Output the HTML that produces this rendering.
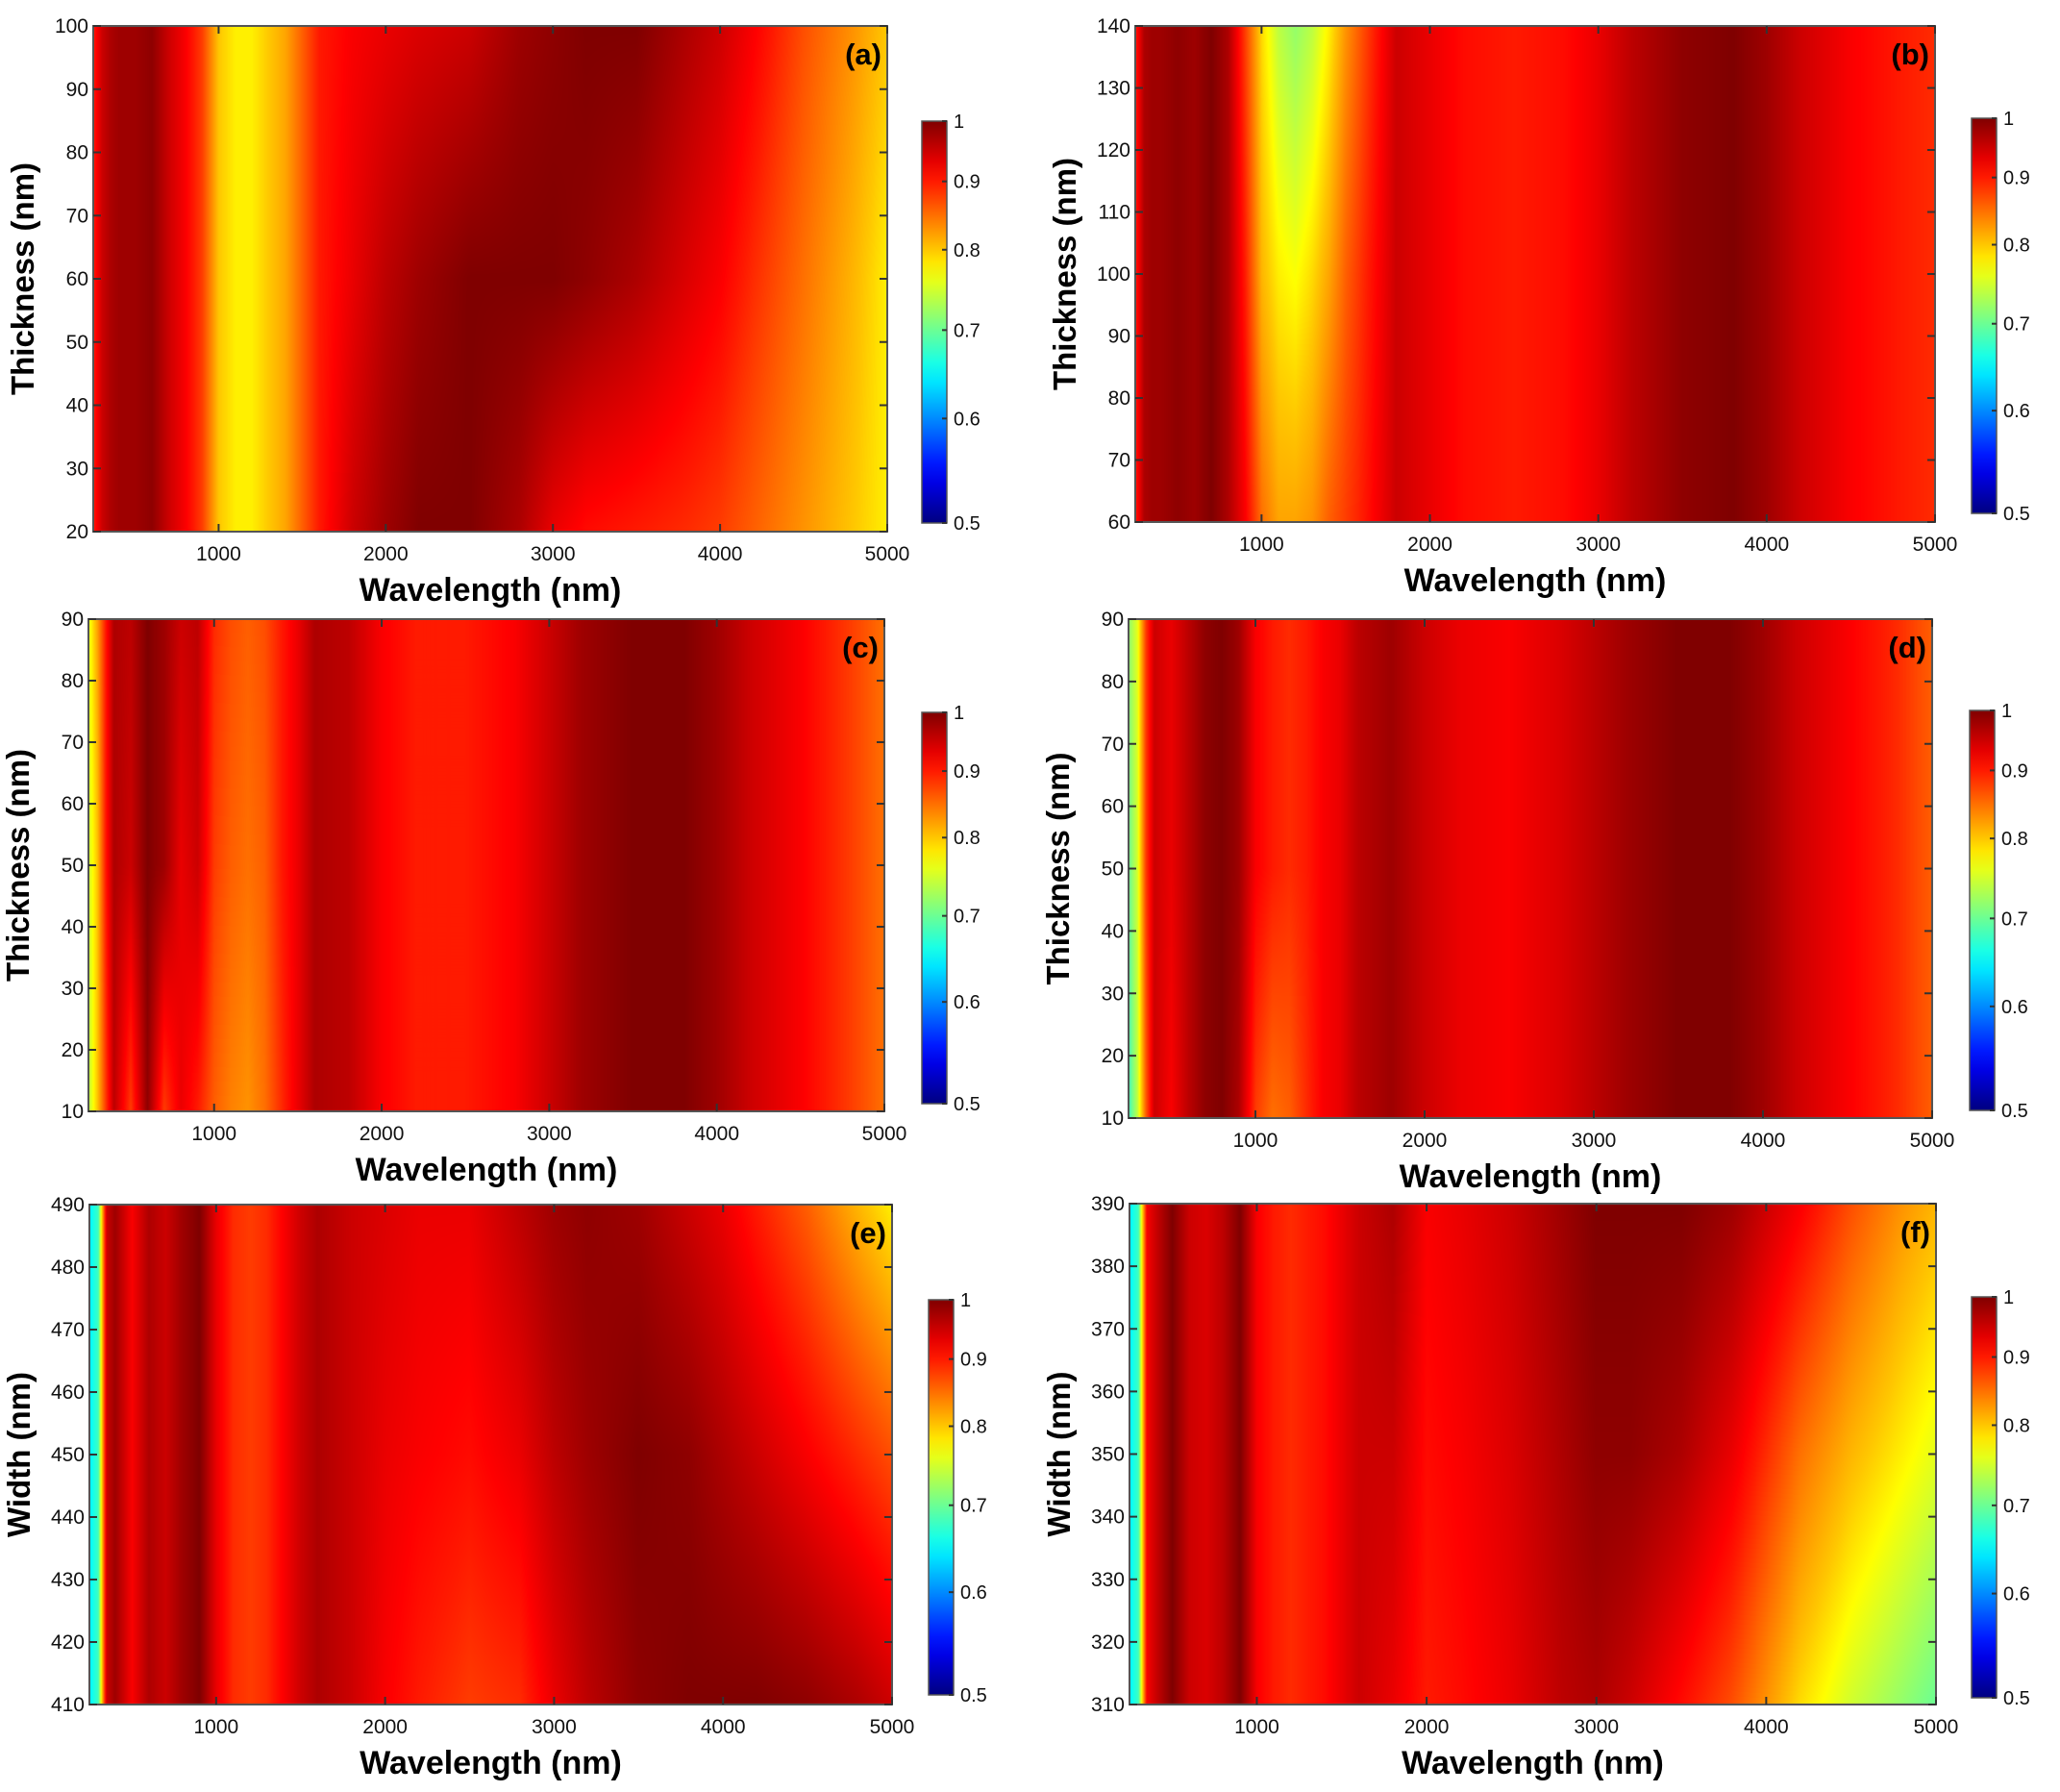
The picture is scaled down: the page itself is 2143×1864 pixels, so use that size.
<!DOCTYPE html>
<html><head><meta charset="utf-8">
<style>
html,body{margin:0;padding:0;background:#fff;}
#root{position:relative;width:2143px;height:1864px;overflow:hidden;background:#fff;font-family:"Liberation Sans",sans-serif;}
canvas{position:absolute;}
svg{position:absolute;left:0;top:0;}
</style></head>
<body>
<div id="root">
<svg id="ov" width="2143" height="1864"></svg>
</div>
<script>
// shared wavelength columns (nm)
const waves = [250,300,350,400,500,600,700,800,900,1000,1100,1200,1300,1400,1500,1600,1800,2000,2200,2500,2800,3000,3200,3500,3800,4000,4200,4500,4800,5000];
const xTicks = [1000,2000,3000,4000,5000];
const cbTicks = ["1","0.9","0.8","0.7","0.6","0.5"];
const cbValues = [1,0.9,0.8,0.7,0.6,0.5];
// panel (a) rows: bottom, middle, top
const aBottom = [0.90,0.95,0.97,0.98,0.98,0.99,0.95,0.92,0.88,0.80,0.78,0.78,0.80,0.82,0.86,0.90,0.95,0.98,1.00,1.00,0.97,0.93,0.91,0.90,0.89,0.88,0.86,0.83,0.80,0.78];
const aMid    = [0.90,0.95,0.97,0.98,0.98,0.99,0.95,0.92,0.88,0.80,0.78,0.78,0.80,0.82,0.86,0.90,0.93,0.96,0.98,1.00,1.00,1.00,0.99,0.97,0.94,0.92,0.89,0.85,0.81,0.78];
const aTop    = [0.90,0.95,0.97,0.98,0.98,0.99,0.95,0.92,0.88,0.80,0.78,0.78,0.80,0.82,0.86,0.90,0.92,0.93,0.94,0.95,0.98,0.99,1.00,1.00,0.97,0.95,0.92,0.87,0.83,0.80];
const aYTicks = [20,30,40,50,60,70,80,90,100];
// panel (b)
const bBottom = [0.90,0.97,0.98,0.98,0.99,0.98,1.00,0.97,0.92,0.85,0.82,0.82,0.83,0.86,0.88,0.90,0.95,0.93,0.91,0.90,0.91,0.93,0.96,0.99,1.00,0.98,0.95,0.92,0.90,0.89];
const bMid    = [0.90,0.97,0.98,0.98,0.99,0.98,1.00,0.97,0.90,0.81,0.78,0.77,0.79,0.82,0.86,0.89,0.95,0.93,0.91,0.90,0.91,0.93,0.96,0.99,1.00,0.98,0.95,0.92,0.90,0.89];
const bTop    = [0.90,0.97,0.98,0.98,0.99,0.98,1.00,0.97,0.88,0.79,0.74,0.72,0.74,0.78,0.83,0.87,0.95,0.93,0.91,0.90,0.91,0.93,0.96,0.99,1.00,0.98,0.95,0.92,0.90,0.89];
const bYTicks = [60,70,80,90,100,110,120,130,140];
// panel (c)
const cBottom = [0.74,0.80,0.88,0.96,0.88,0.99,0.88,0.93,0.90,0.86,0.84,0.83,0.85,0.89,0.93,0.97,0.96,0.92,0.90,0.90,0.92,0.95,0.98,1.00,1.00,0.98,0.95,0.92,0.88,0.85];
const cMid    = [0.75,0.80,0.90,0.97,0.95,1.00,0.98,0.93,0.95,0.88,0.86,0.85,0.86,0.90,0.93,0.97,0.96,0.92,0.90,0.90,0.92,0.95,0.98,1.00,1.00,0.98,0.95,0.92,0.88,0.85];
const cTop    = [0.76,0.82,0.90,0.97,0.96,1.00,0.98,0.95,0.96,0.89,0.87,0.86,0.87,0.90,0.93,0.97,0.96,0.92,0.90,0.90,0.92,0.95,0.98,1.00,1.00,0.98,0.95,0.92,0.88,0.85];
const cYTicks = [10,20,30,40,50,60,70,80,90];
// panel (d)
const dBottom = [0.68,0.74,0.86,0.95,0.92,0.96,0.99,1.00,0.97,0.88,0.85,0.86,0.89,0.92,0.93,0.96,0.98,0.95,0.93,0.92,0.94,0.96,0.98,1.00,1.00,0.98,0.95,0.92,0.89,0.86];
const dMid    = [0.70,0.75,0.88,0.95,0.93,0.96,0.99,1.00,0.98,0.92,0.90,0.89,0.90,0.92,0.93,0.96,0.98,0.95,0.93,0.92,0.94,0.96,0.98,1.00,1.00,0.98,0.95,0.92,0.89,0.86];
const dTop    = [0.72,0.76,0.88,0.95,0.93,0.96,0.99,1.00,0.98,0.92,0.90,0.89,0.90,0.92,0.93,0.96,0.98,0.95,0.93,0.92,0.94,0.96,0.98,1.00,1.00,0.98,0.95,0.92,0.89,0.86];
const dYTicks = [10,20,30,40,50,60,70,80,90];
// panel (e)
const eBottom = [0.65,0.68,0.95,0.98,0.92,0.97,0.95,0.98,1.00,0.93,0.89,0.88,0.89,0.92,0.95,0.97,0.95,0.92,0.90,0.88,0.89,0.93,0.96,0.99,1.00,1.00,1.00,0.99,0.97,0.95];
const eMid    = [0.65,0.68,0.95,0.98,0.92,0.97,0.95,0.98,1.00,0.93,0.89,0.88,0.89,0.92,0.95,0.97,0.95,0.93,0.92,0.91,0.93,0.96,0.98,1.00,0.99,0.97,0.95,0.92,0.89,0.87];
const eTop    = [0.65,0.68,0.95,0.98,0.92,0.97,0.95,0.98,1.00,0.93,0.89,0.88,0.89,0.92,0.95,0.97,0.95,0.94,0.93,0.93,0.96,0.98,0.99,0.98,0.95,0.93,0.90,0.86,0.81,0.78];
const eYTicks = [410,420,430,440,450,460,470,480,490];
// panel (f)
const fBottom = [0.65,0.68,0.92,0.95,1.00,0.95,0.94,0.96,1.00,0.92,0.90,0.89,0.90,0.91,0.93,0.95,0.93,0.90,0.91,0.93,0.96,0.97,0.95,0.91,0.87,0.83,0.79,0.75,0.72,0.70];
const fMid    = [0.65,0.68,0.92,0.95,1.00,0.95,0.94,0.96,1.00,0.92,0.90,0.89,0.90,0.91,0.93,0.95,0.95,0.91,0.92,0.94,0.97,0.99,0.99,0.97,0.93,0.89,0.85,0.81,0.78,0.76];
const fTop    = [0.65,0.68,0.92,0.95,1.00,0.95,0.94,0.96,1.00,0.92,0.90,0.89,0.90,0.91,0.93,0.95,0.97,0.92,0.93,0.95,0.98,1.00,1.00,1.00,0.98,0.95,0.92,0.87,0.83,0.81];
const fYTicks = [310,320,330,340,350,360,370,380,390];

const panels = [
 {id:'a',rows:[aBottom,aMid,aTop],yt:aYTicks,ytitle:'Thickness (nm)',x:97,y:27,w:826,h:526,cb:[959,126,26,418]},
 {id:'b',rows:[bBottom,bMid,bTop],yt:bYTicks,ytitle:'Thickness (nm)',x:1181,y:27,w:832,h:516,cb:[2051,123,26,411]},
 {id:'c',rows:[cBottom,cMid,cTop],yt:cYTicks,ytitle:'Thickness (nm)',x:92,y:644,w:828,h:512,cb:[959,741,26,407]},
 {id:'d',rows:[dBottom,dMid,dTop],yt:dYTicks,ytitle:'Thickness (nm)',x:1174,y:644,w:836,h:519,cb:[2049,739,26,416]},
 {id:'e',rows:[eBottom,eMid,eTop],yt:eYTicks,ytitle:'Width (nm)',x:93,y:1253,w:835,h:520,cb:[966,1352,26,411]},
 {id:'f',rows:[fBottom,fMid,fTop],yt:fYTicks,ytitle:'Width (nm)',x:1175,y:1252,w:839,h:521,cb:[2051,1349,26,417]}
];
const XMIN=250, XMAX=5000;
const cbFrac=[0,0.15,0.32,0.52,0.74,1];

function jetT(t){
  t=Math.max(0,Math.min(1,t));
  const c=x=>Math.max(0,Math.min(1,x));
  return [c(1.5-Math.abs(4*t-3))*255,c(1.5-Math.abs(4*t-2))*255,c(1.5-Math.abs(4*t-1))*255];
}
function valToFrac(v){
  if(v>=cbValues[0]) return 0;
  for(let k=0;k<cbValues.length-1;k++){
    if(v<=cbValues[k] && v>=cbValues[k+1]){
      const u=(cbValues[k]-v)/(cbValues[k]-cbValues[k+1]);
      return cbFrac[k]+u*(cbFrac[k+1]-cbFrac[k]);
    }
  }
  return 1;
}
function color(v){return jetT(1-valToFrac(v));}
function valAt(rows,wl,fy){
  let i=0; while(i<waves.length-2 && waves[i+1]<wl) i++;
  let tx=(wl-waves[i])/(waves[i+1]-waves[i]); tx=Math.max(0,Math.min(1,tx));
  const r=fy*(rows.length-1); let j=Math.min(rows.length-2,Math.floor(r)); const ty=r-j;
  const a=rows[j][i]*(1-tx)+rows[j][i+1]*tx, b=rows[j+1][i]*(1-tx)+rows[j+1][i+1]*tx;
  return a*(1-ty)+b*ty;
}
const root=document.getElementById('root');
const ov=document.getElementById('ov');
const NS='http://www.w3.org/2000/svg';
function mk(tag,attrs,parent,text){const e=document.createElementNS(NS,tag);for(const k in attrs)e.setAttribute(k,attrs[k]);if(text!==undefined)e.textContent=text;(parent||ov).appendChild(e);return e;}

const defs=mk('defs',{});
const lg=mk('linearGradient',{id:'jetg',x1:0,y1:0,x2:0,y2:1},defs);
for(let k=0;k<=20;k++){const c=jetT(1-k/20);mk('stop',{offset:(k/20),'stop-color':`rgb(${c.map(Math.round).join(',')})`},lg);}

panels.forEach(p=>{
  const cv=document.createElement('canvas');
  cv.width=p.w;cv.height=p.h;cv.style.left=p.x+'px';cv.style.top=p.y+'px';
  
  
  root.insertBefore(cv,ov);
  const ctx=cv.getContext('2d');const img=ctx.createImageData(p.w,p.h);
  for(let py=0;py<p.h;py++){const fy=1-py/(p.h-1);
    for(let px=0;px<p.w;px++){const wl=XMIN+(XMAX-XMIN)*px/(p.w-1);
      const c=color(valAt(p.rows,wl,fy));const o=(py*p.w+px)*4;
      img.data[o]=c[0];img.data[o+1]=c[1];img.data[o+2]=c[2];img.data[o+3]=255;}}
  ctx.putImageData(img,0,0);
  const g=mk('g',{});
  
  
  const fr=mk('rect',{x:p.x,y:p.y,width:p.w,height:p.h,fill:'none',stroke:'#555','stroke-width':2},g);
  
  
  const sx=v=>p.x+(v-XMIN)/(XMAX-XMIN)*p.w;
  xTicks.forEach(v=>{const X=sx(v);
    mk('line',{x1:X,y1:p.y+p.h,x2:X,y2:p.y+p.h-8,stroke:'#333','stroke-width':2},g);
    mk('line',{x1:X,y1:p.y,x2:X,y2:p.y+8,stroke:'#333','stroke-width':2},g);
    const t=mk('text',{x:X,y:p.y+p.h+30,'text-anchor':'middle','font-size':21,fill:'#111'},g,String(v));
    
    
  });
  const y0=p.yt[0],y1=p.yt[p.yt.length-1];
  const sy=v=>p.y+p.h-(v-y0)/(y1-y0)*p.h;
  p.yt.forEach(v=>{const Y=sy(v);
    mk('line',{x1:p.x,y1:Y,x2:p.x+8,y2:Y,stroke:'#333','stroke-width':2},g);
    mk('line',{x1:p.x+p.w,y1:Y,x2:p.x+p.w-8,y2:Y,stroke:'#333','stroke-width':2},g);
    const t=mk('text',{x:p.x-5,y:Y+7,'text-anchor':'end','font-size':21,fill:'#111'},g,String(v));
    
    
  });
  const xt=mk('text',{x:p.x+p.w/2,y:p.y+p.h+72,'text-anchor':'middle','font-size':34,'font-weight':'bold',fill:'#000'},g,'Wavelength (nm)');
  
  
  const ycx=p.x-62, ycy=p.y+p.h/2;
  const yt=mk('text',{x:ycx,y:ycy,'text-anchor':'middle','font-size':33,'font-weight':'bold',fill:'#000',transform:`rotate(-90 ${ycx} ${ycy})`},g,p.ytitle);
  
  
  const pl=mk('text',{x:p.x+p.w-6,y:p.y+40,'text-anchor':'end','font-size':31,'font-weight':'bold',fill:'#000'},g,'('+p.id+')');
  
  
  const [cx,cy,cw,ch]=p.cb;
  const cb=mk('rect',{x:cx,y:cy,width:cw,height:ch,fill:'url(#jetg)',stroke:'#555','stroke-width':1.5},g);
  
  
  cbTicks.forEach((lab,k)=>{const Y=cy+cbFrac[k]*ch;
    mk('line',{x1:cx+cw-5,y1:Y,x2:cx+cw,y2:Y,stroke:'#333','stroke-width':2},g);
    const t=mk('text',{x:cx+cw+7,y:Y+7,'font-size':20,fill:'#111'},g,lab);
    
    
  });
});
</script>
</body></html>
